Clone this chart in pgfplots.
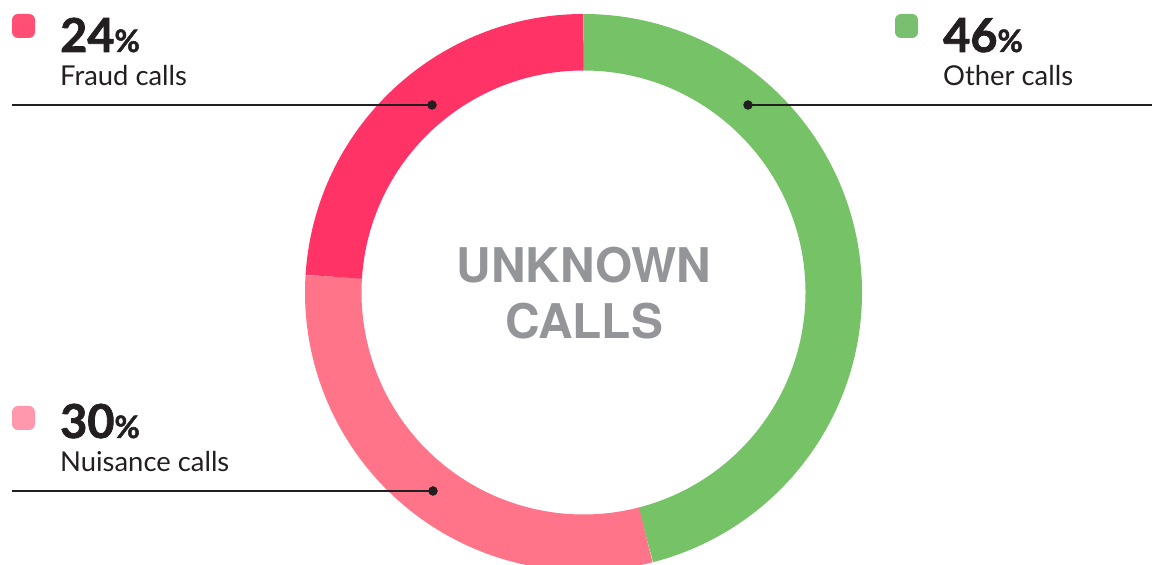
\documentclass[border=0pt]{standalone}
\usepackage{pgfplots}
\pgfplotsset{compat=1.18}
\usepackage{pgfplotstable}
\usepackage{fontspec}
\setmainfont{Lato}
\newfontfamily\numfont{Lato Bold}[FakeBold=1.6]
\newfontfamily\heros{TeX Gyre Heros}

\definecolor{cOther}{HTML}{75C267}
\definecolor{cNuis}{HTML}{FF7489}
\definecolor{cFraud}{HTML}{FF3366}
\definecolor{dOther}{HTML}{78C070}
\definecolor{dNuis}{HTML}{FF97AD}
\definecolor{dFraud}{HTML}{FF4F75}
\definecolor{ink}{HTML}{231F20}
\definecolor{centre}{HTML}{939598}

% share of unknown calls, clockwise from 12 o'clock
\pgfplotstableread{
label value
Other 46
Nuisance 30
Fraud 24
}\calls

\pgfplotstablegetelem{0}{value}\of\calls \let\vOther\pgfplotsretval
\pgfplotstablegetelem{1}{value}\of\calls \let\vNuis\pgfplotsretval
\pgfplotstablegetelem{2}{value}\of\calls \let\vFraud\pgfplotsretval
\pgfmathsetmacro\aA{90}
\pgfmathsetmacro\aB{\aA-3.6*\vOther}
\pgfmathsetmacro\aC{\aB-3.6*\vNuis}
\pgfmathsetmacro\aD{\aC-3.6*\vFraud}

\newcommand{\pct}[1]{{\numfont\fontsize{47}{47}\selectfont #1}{\numfont\fontsize{31}{31}\selectfont\%}}
\newcommand{\sub}[1]{{\fontsize{27.5}{27.5}\selectfont #1}}

\begin{document}
\begin{tikzpicture}
\useasboundingbox (0,0) rectangle (1152bp,565bp);
\clip (0,0) rectangle (1152bp,565bp);
\begin{axis}[
    at={(0,0)}, anchor=south west,
    width=1152bp, height=565bp, scale only axis,
    xmin=0, xmax=1152, ymin=0, ymax=565,
    hide axis, clip=false,
]
% ring
\draw[cOther, line width=56.5bp] (axis cs:583.5,272.5) ++(\aA:250.25bp) arc[start angle=\aA, end angle=\aB, radius=250.25bp];
\draw[cNuis, line width=56.5bp] (axis cs:583.5,272.5) ++(\aB:250.25bp) arc[start angle=\aB, end angle=\aC, radius=250.25bp];
\draw[cFraud, line width=56.5bp] (axis cs:583.5,272.5) ++(\aC:250.25bp) arc[start angle=\aC, end angle=\aD, radius=250.25bp];

% leader lines
\addplot[ink, line width=2bp] coordinates {(12,460) (432,460)};
\addplot[ink, line width=2bp] coordinates {(748,460) (1152,460)};
\addplot[ink, line width=2bp] coordinates {(12,74) (433,74)};
\addplot[ink, only marks, mark=*, mark size=4.5bp] coordinates {(432,460) (748,460) (433,74)};

% legend squares
\fill[dFraud, rounded corners=6bp] (axis cs:12,527) rectangle (axis cs:35,551);
\fill[dOther, rounded corners=6bp] (axis cs:895,527) rectangle (axis cs:918,551);
\fill[dNuis, rounded corners=6bp] (axis cs:12,135) rectangle (axis cs:35,159);

% labels
\node[ink, anchor=base west, inner sep=0] at (axis cs:60,513) {\pct{\vFraud}};
\node[ink, anchor=base west, inner sep=0] at (axis cs:60,479) {\sub{Fraud calls}};
\node[ink, anchor=base west, inner sep=0] at (axis cs:943,513) {\pct{\vOther}};
\node[ink, anchor=base west, inner sep=0] at (axis cs:943,479) {\sub{Other calls}};
\node[ink, anchor=base west, inner sep=0] at (axis cs:60,127) {\pct{\vNuis}};
\node[ink, anchor=base west, inner sep=0] at (axis cs:60,93) {\sub{Nuisance calls}};

% centre
\node[centre, anchor=base, inner sep=0] at (axis cs:584,282) {\heros\bfseries\fontsize{48}{48}\selectfont UNKNOWN};
\node[centre, anchor=base, inner sep=0] at (axis cs:584,226) {\heros\bfseries\fontsize{48}{48}\selectfont CALLS};
\end{axis}
\end{tikzpicture}
\end{document}
